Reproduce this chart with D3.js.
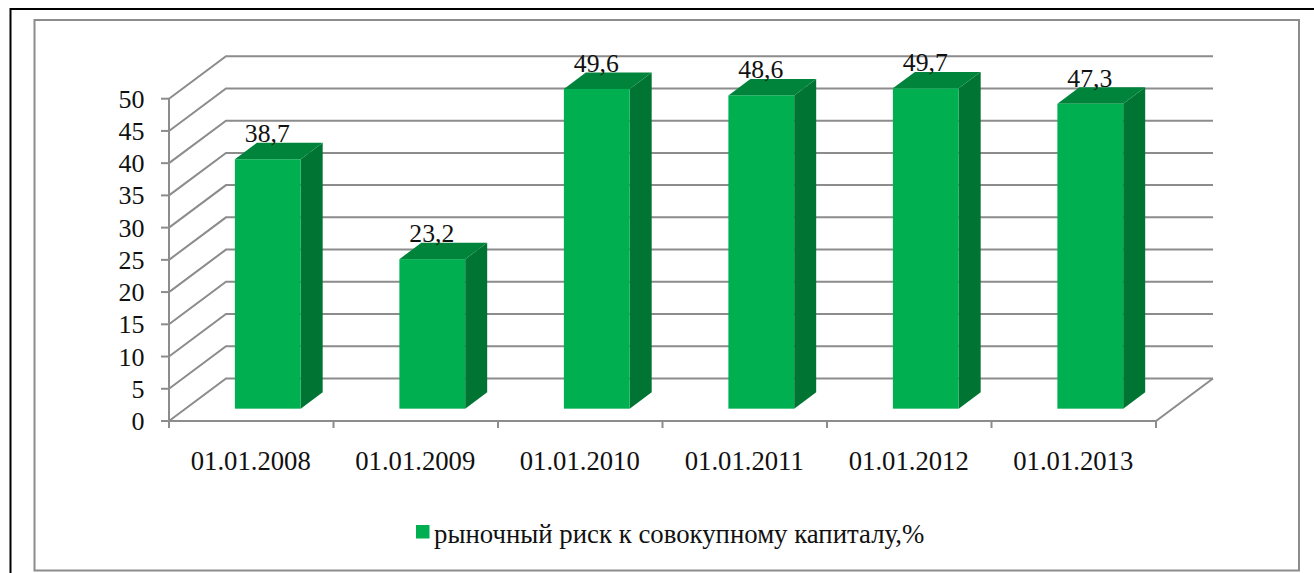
<!DOCTYPE html>
<html><head><meta charset="utf-8">
<script src="https://cdn.jsdelivr.net/npm/d3@7"></script>
<style>html,body{margin:0;padding:0;background:#fff;overflow:hidden}svg{display:block}text{font-family:"Liberation Serif",serif;fill:#111}</style>
</head><body><svg id="c" width="1314" height="573"></svg>
<script>
const categories=["01.01.2008","01.01.2009","01.01.2010","01.01.2011","01.01.2012","01.01.2013"];
const values=[38.7,23.2,49.6,48.6,49.7,47.3];
const valueLabels=["38,7","23,2","49,6","48,6","49,7","47,3"];
const yTicks=[0,5,10,15,20,25,30,35,40,45,50];
const legendLabel="рыночный риск к совокупному капиталу,%";
const svg=d3.select("#c");
const grid="#8c8c8c";
const W=1314,H=573;
const x=d3.scaleBand().domain(categories).range([169,1156]);
const y=d3.scaleLinear().domain([0,50]).range([421,98.7]);
const depthX=57,depthY=-42.5;
// frames
svg.append("path").attr("d",`M${W},9H10.5V${H}`).attr("fill","none").attr("stroke","#000").attr("stroke-width",2);
svg.append("rect").attr("x",34.5).attr("y",20).attr("width",1264.5).attr("height",550.5).attr("fill","#fff").attr("stroke",grid).attr("stroke-width",2);
// gridlines
const g=svg.append("g").attr("fill","none").attr("stroke",grid).attr("stroke-width",2);
yTicks.forEach(t=>{
  g.append("path").attr("d",`M${x.range()[0]},${y(t)}l${depthX},${depthY}H${x.range()[1]+depthX}`);
  g.append("path").attr("d",`M${x.range()[0]-8},${y(t)}H${x.range()[0]}`);
});
g.append("path").attr("d",`M${x.range()[0]},${y(50)}V${y(0)+7}`);
g.append("path").attr("d",`M${x.range()[0]},${y(0)}H${x.range()[1]}l${depthX},${depthY}`);
categories.concat([null]).forEach((c,i)=>{
  const px=x.range()[0]+i*x.step();
  g.append("path").attr("d",`M${px},${y(0)}v7`);
});
// bars
const d0=0.29,d1=0.676,bw=x.step()*0.4;
const bars=svg.append("g");
categories.forEach((c,i)=>{
  const xl=x(c)+(x.step()-bw)/2+depthX*d0;
  const xr=xl+bw;
  const yb=y(0)+depthY*d0;
  const yt=y(values[i])+depthY*d0;
  const dx=depthX*(d1-d0),dy=depthY*(d1-d0);
  bars.append("path").attr("d",`M${xr},${yb}l${dx},${dy}V${yt+dy}L${xr},${yt}Z`).attr("fill","#007533");
  bars.append("path").attr("d",`M${xl},${yt}l${dx},${dy}H${xr+dx}L${xr},${yt}Z`).attr("fill","#00843c");
  bars.append("rect").attr("x",xl).attr("y",yt).attr("width",bw).attr("height",yb-yt).attr("fill","#00b050");
  svg.append("text").attr("x",(xl+xr)/2-0.5).attr("y",yt+dy-0.5).attr("text-anchor","middle").attr("font-size",25.7).text(valueLabels[i]);
  svg.append("text").attr("x",x(c)+x.step()/2-0.5).attr("y",y(0)+48.5).attr("text-anchor","middle").attr("font-size",26.7).text(c);
});
yTicks.forEach(t=>svg.append("text").attr("x",144.5).attr("y",y(t)+9).attr("text-anchor","end").attr("font-size",26).text(t));
// legend
svg.append("rect").attr("x",416).attr("y",525).attr("width",13.5).attr("height",13.5).attr("fill","#00b050");
svg.append("text").attr("x",434).attr("y",543).attr("font-size",26.8).text(legendLabel);
</script></body></html>
